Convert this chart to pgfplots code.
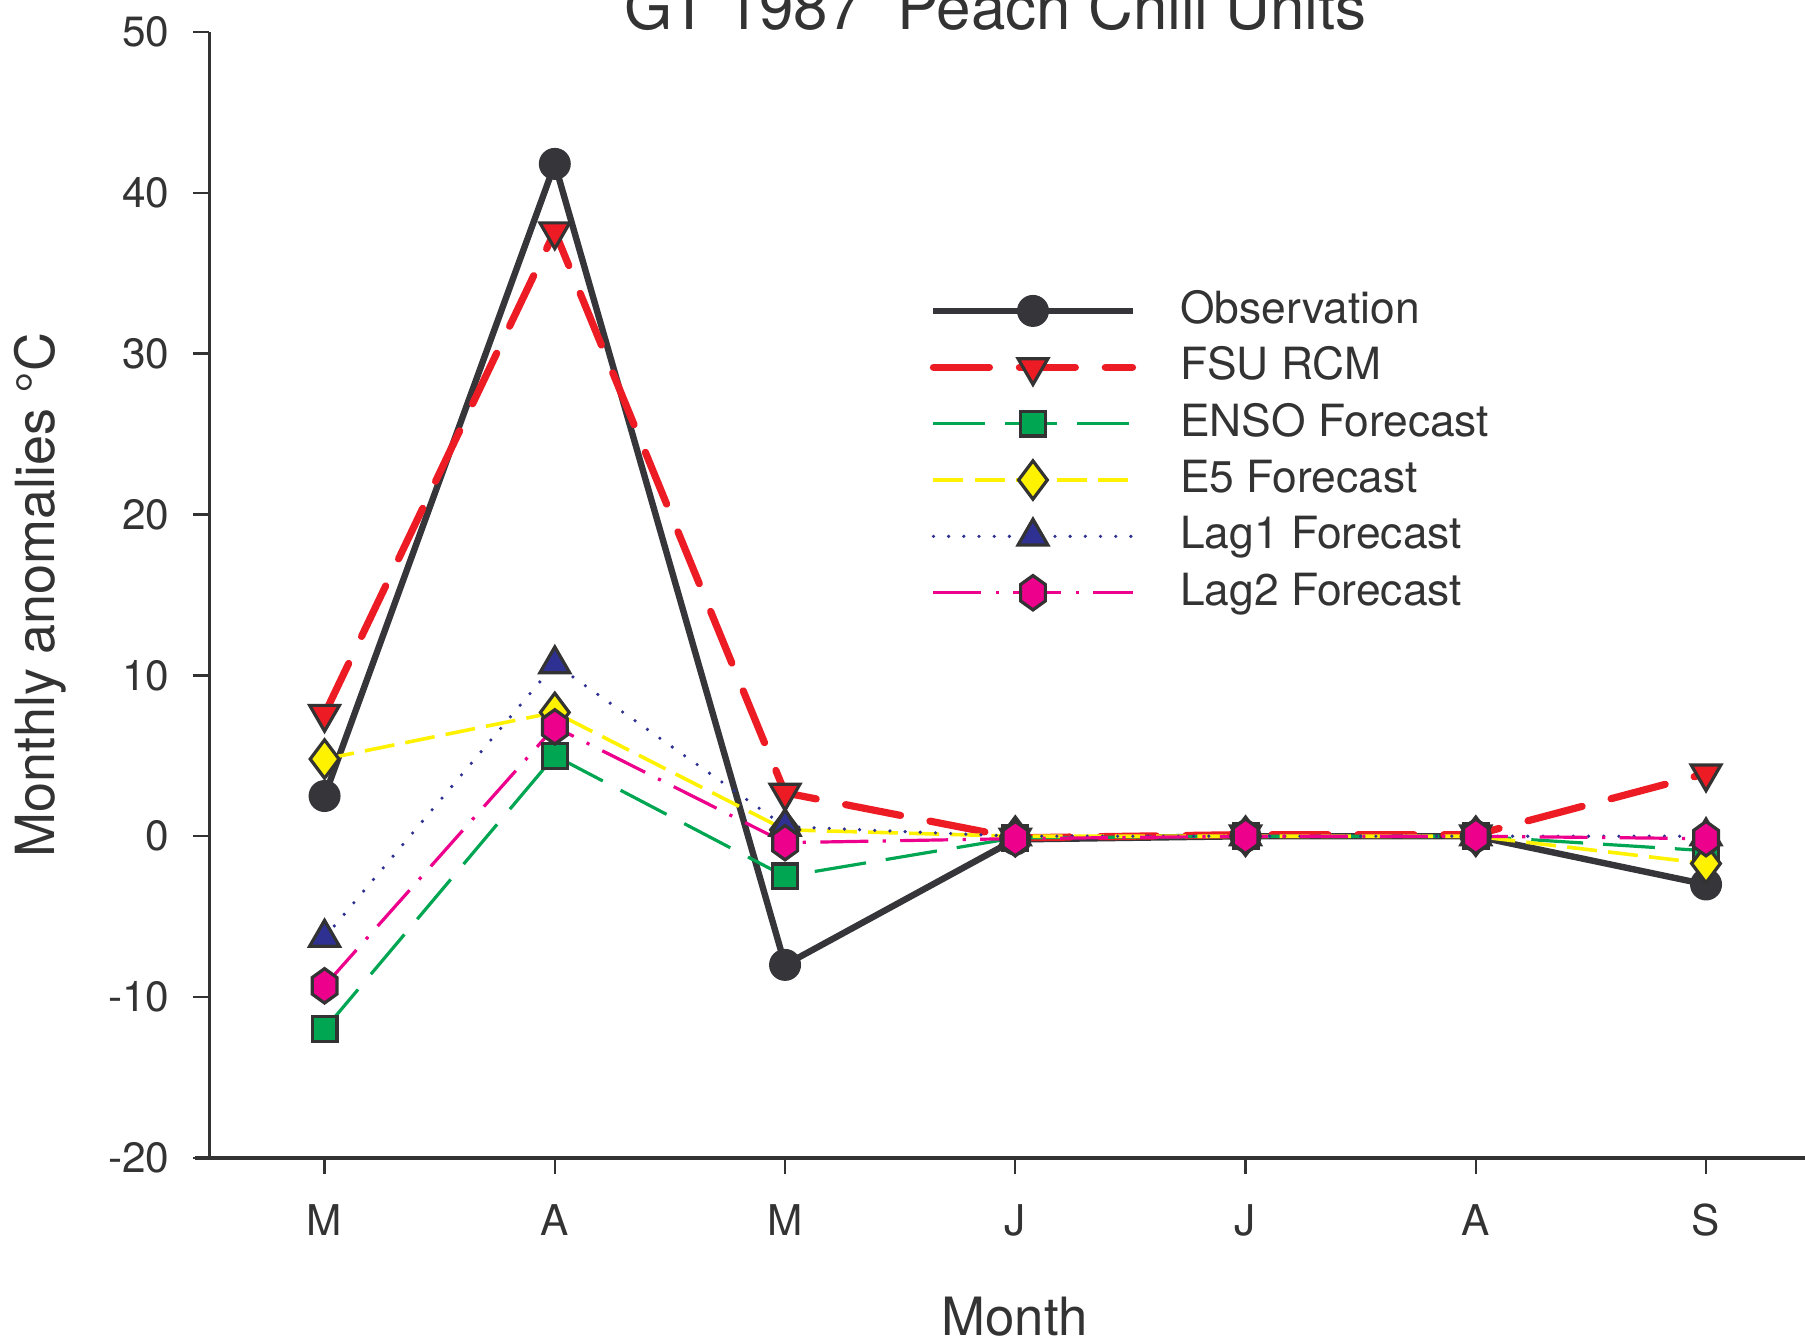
\documentclass[border=0pt]{standalone}
\usepackage{fontspec}
\setmainfont{TeX Gyre Heros}
\usepackage{pgfplots}
\pgfplotsset{compat=1.18}

\definecolor{txt}{HTML}{333333}
\definecolor{obs}{HTML}{35353A}
\definecolor{fsu}{HTML}{ED1C24}
\definecolor{enso}{HTML}{00A651}
\definecolor{efive}{HTML}{FFF200}
\definecolor{lagone}{HTML}{2E3192}
\definecolor{lagtwo}{HTML}{EC008C}

% tall hexagon marker (pointy top and bottom)
\pgfdeclareplotmark{hexagon}{%
  \pgfpathmoveto{\pgfqpoint{0pt}{\pgfplotmarksize}}%
  \pgfpathlineto{\pgfqpoint{0.72\pgfplotmarksize}{0.48\pgfplotmarksize}}%
  \pgfpathlineto{\pgfqpoint{0.72\pgfplotmarksize}{-0.48\pgfplotmarksize}}%
  \pgfpathlineto{\pgfqpoint{0pt}{-\pgfplotmarksize}}%
  \pgfpathlineto{\pgfqpoint{-0.72\pgfplotmarksize}{-0.48\pgfplotmarksize}}%
  \pgfpathlineto{\pgfqpoint{-0.72\pgfplotmarksize}{0.48\pgfplotmarksize}}%
  \pgfpathclose
  \pgfusepathqfillstroke}

\begin{document}
\begin{tikzpicture}
\begin{axis}[
  scale only axis,
  width=399.2pt, height=281.7pt,
  xmin=-0.5, xmax=6.43,
  ymin=-20, ymax=50,
  axis x line*=bottom,
  axis y line*=left,
  axis line style={-},
  x axis line style={line width=1.1pt, color=txt, shorten <=-3.5pt},
  y axis line style={line width=0.6pt, color=txt},
  xtick={0,...,6},
  xticklabels={M,A,M,J,J,A,S},
  ytick={-20,-10,...,50},
  tick align=outside,
  major tick length=4pt,
  tick style={line width=0.6pt, color=txt},
  /pgf/number format/assume math mode=true,
  ticklabel style={font=\fontsize{10.6}{12}\selectfont, text=txt},
  yticklabel style={anchor=east, inner sep=0pt, xshift=-5.8pt},
  xticklabel style={anchor=north, inner sep=0pt, yshift=-7.4pt},
  title={GT 1987\ \ Peach Chill Units},
  every axis title/.style={at={(axis description cs:0.4928,1)}, anchor=base, yshift=0.6pt,
    font=\fontsize{15.5}{18}\selectfont, text=txt},
  every axis y label/.style={at={(axis description cs:-0.106,0.5)}, rotate=90, anchor=center,
    font=\fontsize{13.5}{16}\selectfont, text=txt},
  ylabel={Monthly anomalies °C},
  every axis x label/.style={at={(axis description cs:0.5047,0)}, anchor=base, yshift=-44.4pt,
    font=\fontsize{13.2}{16}\selectfont, text=txt},
  xlabel={Month},
  legend cell align=left,
  legend style={at={(axis description cs:0.451,0.778)}, anchor=north west,
    draw=none, fill=none, inner sep=0pt,
    font=\fontsize{11.1}{13}\selectfont, text=txt,
    nodes={inner xsep=0pt, inner ysep=1.7pt, text height=8.5pt, text depth=2.2pt},
    /tikz/every odd column/.style={column sep=11pt}},
  legend image code/.code={%
    \draw[mark repeat=2, mark phase=2] plot coordinates {(0pt,0pt) (24.9pt,0pt) (49.8pt,0pt)};},
]
\addplot[obs, line width=1.6pt, mark=*, mark size=3.6pt,
  mark options={solid, fill=obs, draw=obs, line width=0.8pt}]
  coordinates {(0,2.5) (1,41.8) (2,-8.0) (3,-0.2) (4,0) (5,0) (6,-3.0)};
\addlegendentry{Observation}
\addplot[fsu, line width=1.8pt, line cap=round, dash pattern=on 14pt off 7.5pt,
  mark=triangle*, mark size=4.3pt,
  mark options={solid, fill=fsu, draw=txt, line width=0.8pt, line cap=butt, rotate=180}]
  coordinates {(0,7.6) (1,37.6) (2,2.7) (3,-0.1) (4,0.1) (5,0.1) (6,3.9)};
\addlegendentry{FSU RCM}
\addplot[enso, line width=0.8pt, dash pattern=on 13pt off 5pt,
  mark=square*, mark size=3.1pt,
  mark options={solid, fill=enso, draw=txt, line width=0.8pt}]
  coordinates {(0,-12.0) (1,5.0) (2,-2.5) (3,-0.1) (4,0) (5,0) (6,-0.9)};
\addlegendentry{ENSO Forecast}
\addplot[efive, line width=0.9pt, dash pattern=on 7.5pt off 2.8pt,
  mark=diamond*, mark size=4.8pt,
  mark options={solid, fill=efive, draw=txt, line width=0.8pt}]
  coordinates {(0,4.8) (1,7.7) (2,0.4) (3,0) (4,0) (5,0) (6,-1.7)};
\addlegendentry{E5 Forecast}
\addplot[lagone, line width=0.9pt, line cap=round, dash pattern=on 0pt off 3.8pt,
  mark=triangle*, mark size=4.3pt,
  mark options={solid, fill=lagone, draw=txt, line width=0.8pt, line cap=butt}]
  coordinates {(0,-6.3) (1,10.7) (2,0.6) (3,0) (4,0) (5,0) (6,0)};
\addlegendentry{Lag1 Forecast}
\addplot[lagtwo, line width=0.8pt, dash pattern=on 12pt off 3.6pt on 0.8pt off 3.6pt,
  mark=hexagon, mark size=4.3pt,
  mark options={solid, fill=lagtwo, draw=txt, line width=0.8pt}]
  coordinates {(0,-9.3) (1,6.8) (2,-0.4) (3,-0.15) (4,0) (5,0) (6,-0.15)};
\addlegendentry{Lag2 Forecast}
\end{axis}
\pgfresetboundingbox
\useasboundingbox (-52.4pt,-45.8pt) rectangle (399.2pt,289.7pt);
\end{tikzpicture}
\end{document}
